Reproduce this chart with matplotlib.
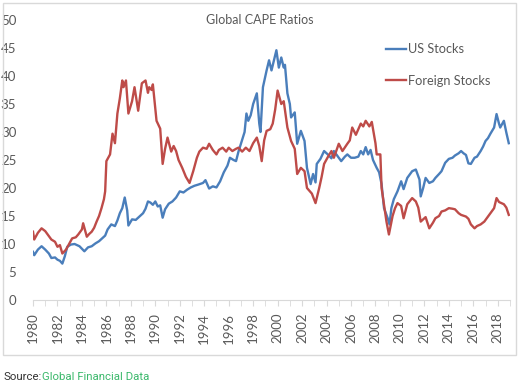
import matplotlib
matplotlib.use("Agg")
import matplotlib.pyplot as plt
from matplotlib.patches import Rectangle
from matplotlib.ticker import MultipleLocator

us_years = [1980.0, 1980.1, 1980.4, 1980.7, 1981.0, 1981.3, 1981.5, 1981.8, 1982.0, 1982.2,
            1982.4, 1982.6, 1982.8, 1983.1, 1983.4, 1983.8, 1984.2, 1984.5, 1984.8, 1985.1,
            1985.4, 1985.6, 1985.9, 1986.1, 1986.4, 1986.7, 1986.9, 1987.1, 1987.3, 1987.5,
            1987.7, 1987.8, 1988.1, 1988.4, 1988.6, 1989.0, 1989.2, 1989.4, 1989.6, 1989.8,
            1990.0, 1990.2, 1990.4, 1990.6, 1990.8, 1991.1, 1991.4, 1991.7, 1992.0, 1992.3,
            1992.6, 1992.9, 1993.2, 1993.5, 1993.9, 1994.1, 1994.4, 1994.7, 1995.0, 1995.3,
            1995.6, 1995.9, 1996.1, 1996.4, 1996.6, 1996.8, 1997.0, 1997.3, 1997.45, 1997.6,
            1997.8, 1998.0, 1998.3, 1998.5, 1998.6, 1998.8, 1999.1, 1999.3, 1999.5, 1999.7,
            1999.9, 2000.1, 2000.3, 2000.5, 2000.6, 2000.8, 2001.0, 2001.1, 2001.4, 2001.6,
            2001.9, 2002.2, 2002.4, 2002.7, 2002.9, 2003.1, 2003.2, 2003.5, 2003.8, 2004.1,
            2004.4, 2004.6, 2004.9, 2005.2, 2005.5, 2005.7, 2006.0, 2006.3, 2006.6, 2006.8,
            2007.0, 2007.2, 2007.4, 2007.6, 2007.8, 2008.1, 2008.3, 2008.5, 2008.7, 2008.85,
            2009.0, 2009.15, 2009.3, 2009.5, 2009.8, 2010.1, 2010.3, 2010.6, 2011.0, 2011.3,
            2011.6, 2011.7, 2011.9, 2012.1, 2012.4, 2012.7, 2012.9, 2013.2, 2013.4, 2013.7,
            2014.0, 2014.3, 2014.5, 2014.8, 2015.0, 2015.2, 2015.4, 2015.6, 2015.8, 2016.1,
            2016.3, 2016.6, 2016.8, 2017.0, 2017.2, 2017.4, 2017.7, 2017.9, 2018.1, 2018.2,
            2018.5, 2018.7, 2018.9]
us_cape = [8.6, 8.0, 9.0, 9.6, 9.0, 8.3, 7.5, 7.6, 7.2, 7.0,
           6.5, 7.8, 9.5, 9.9, 10.0, 9.6, 8.7, 9.4, 9.6, 10.1,
           10.5, 10.9, 11.5, 12.6, 13.5, 13.2, 14.2, 15.5, 16.4, 18.3,
           16.0, 13.3, 14.4, 14.3, 14.7, 15.5, 16.3, 17.6, 17.4, 17.0,
           17.6, 16.7, 16.9, 14.7, 16.2, 17.2, 17.6, 18.3, 19.4, 19.2,
           19.7, 20.1, 20.4, 20.6, 20.9, 21.4, 19.9, 20.3, 20.1, 21.2,
           22.8, 24.0, 25.4, 25.0, 24.8, 26.5, 27.9, 30.0, 33.3, 32.0,
           33.0, 35.0, 36.9, 31.5, 30.0, 38.0, 41.0, 42.8, 41.0, 42.8,
           44.6, 41.5, 43.3, 41.5, 42.0, 36.9, 35.0, 32.6, 33.5, 27.9,
           30.2, 28.4, 23.6, 20.7, 22.5, 21.0, 24.3, 25.2, 26.6, 26.0,
           25.3, 26.6, 25.7, 24.8, 25.6, 26.0, 25.4, 25.4, 25.6, 26.6,
           26.0, 27.3, 26.0, 26.8, 25.0, 23.6, 22.8, 20.7, 16.4, 15.5,
           14.6, 13.5, 16.4, 18.0, 19.4, 21.2, 19.8, 21.8, 23.0, 23.3,
           21.5, 18.5, 20.0, 21.8, 20.9, 21.2, 21.8, 22.5, 23.0, 24.5,
           25.2, 25.4, 25.8, 26.2, 26.6, 26.2, 25.9, 24.4, 24.3, 25.4,
           25.6, 26.6, 27.4, 28.4, 28.9, 29.7, 30.8, 33.2, 31.5, 30.8,
           32.0, 29.9, 28.0]

fx_years = [1980.0, 1980.1, 1980.4, 1980.7, 1981.0, 1981.2, 1981.5, 1981.8, 1982.0, 1982.2,
            1982.4, 1982.7, 1983.0, 1983.2, 1983.5, 1983.7, 1984.0, 1984.1, 1984.4, 1984.6,
            1984.8, 1985.0, 1985.2, 1985.4, 1985.6, 1985.8, 1985.9, 1986.0, 1986.3, 1986.5,
            1986.7, 1986.9, 1987.1, 1987.3, 1987.4, 1987.6, 1987.8, 1988.1, 1988.3, 1988.6,
            1988.9, 1989.2, 1989.4, 1989.5, 1989.7, 1989.8, 1990.1, 1990.4, 1990.6, 1990.8,
            1991.0, 1991.3, 1991.5, 1991.7, 1991.9, 1992.2, 1992.5, 1992.8, 1993.1, 1993.4,
            1993.6, 1993.9, 1994.2, 1994.4, 1994.7, 1995.0, 1995.2, 1995.5, 1995.8, 1996.0,
            1996.3, 1996.6, 1996.8, 1997.1, 1997.4, 1997.7, 1998.0, 1998.3, 1998.5, 1998.7,
            1998.9, 1999.1, 1999.4, 1999.6, 1999.8, 2000.0, 2000.3, 2000.5, 2000.8, 2001.1,
            2001.4, 2001.6, 2001.9, 2002.2, 2002.4, 2002.8, 2003.1, 2003.4, 2003.6, 2003.8,
            2004.1, 2004.4, 2004.6, 2005.0, 2005.3, 2005.7, 2005.9, 2006.1, 2006.4, 2006.8,
            2007.0, 2007.2, 2007.5, 2007.7, 2008.0, 2008.1, 2008.4, 2008.5, 2008.7, 2008.9,
            2009.1, 2009.4, 2009.6, 2009.8, 2010.1, 2010.3, 2010.6, 2011.0, 2011.3, 2011.5,
            2011.7, 2012.1, 2012.4, 2012.7, 2012.9, 2013.2, 2013.4, 2013.7, 2014.0, 2014.3,
            2014.5, 2014.8, 2015.0, 2015.4, 2015.6, 2015.8, 2016.1, 2016.3, 2016.6, 2016.9,
            2017.1, 2017.4, 2017.7, 2017.9, 2018.1, 2018.3, 2018.5, 2018.7, 2018.9]
fx_cape = [12.2, 10.8, 12.0, 12.8, 12.3, 11.7, 10.8, 10.4, 9.5, 9.8,
           8.3, 9.0, 10.2, 11.0, 11.2, 11.7, 12.6, 13.7, 11.3, 11.8,
           12.2, 12.9, 14.0, 15.0, 16.4, 18.0, 19.4, 24.8, 26.0, 29.7,
           28.0, 33.3, 36.0, 39.2, 38.0, 39.2, 33.3, 35.5, 38.0, 33.8,
           38.7, 39.2, 37.0, 38.0, 37.5, 38.5, 32.0, 30.6, 24.3, 27.0,
           29.0, 26.5, 27.5, 26.6, 25.0, 23.6, 22.0, 20.9, 23.0, 25.4,
           26.5, 27.2, 27.0, 27.9, 26.8, 26.0, 26.8, 27.2, 26.5, 27.2,
           26.6, 27.0, 27.2, 26.5, 27.2, 26.6, 28.0, 29.0, 27.5, 24.8,
           28.5, 30.2, 30.5, 31.5, 34.0, 37.4, 35.0, 35.5, 30.8, 28.4,
           27.0, 22.5, 23.6, 23.0, 20.0, 19.0, 17.3, 20.0, 22.0, 24.3,
           25.5, 26.6, 25.4, 27.9, 26.6, 27.9, 28.5, 30.8, 29.5, 31.5,
           31.0, 32.0, 31.0, 31.8, 28.0, 26.0, 26.0, 20.0, 17.0, 14.0,
           11.7, 15.0, 16.4, 17.3, 16.8, 14.6, 17.1, 18.2, 17.6, 16.5,
           14.0, 14.8, 12.8, 13.8, 14.6, 15.0, 15.8, 16.0, 16.4, 16.3,
           16.2, 15.5, 15.2, 14.9, 14.5, 13.5, 12.8, 13.2, 13.5, 14.0,
           14.6, 15.5, 16.4, 18.2, 17.5, 17.3, 17.1, 16.5, 15.2]

year_labels = list(range(1980, 2019, 2))

W, H = 523, 387
fig = plt.figure(figsize=(W / 100, H / 100), dpi=100)
plt.rcParams['font.family'] = ['Lato', 'DejaVu Sans']

# light frame around the chart
fig.patches.append(Rectangle((3 / W, 1 - 355 / H), 513 / W, 352 / H, transform=fig.transFigure,
                             fill=False, edgecolor='#d9d9d9', linewidth=1))

ax = fig.add_axes([33 / W, 1 - 300 / H, 477 / W, 280 / H])
ax.plot(us_years, us_cape, color='#4a7ebb', lw=1.7, label='US Stocks')
ax.plot(fx_years, fx_cape, color='#be4b48', lw=1.7, label='Foreign Stocks')

ax.set_xlim(1980, 2019)
ax.set_ylim(0, 50)
ax.set_yticks(range(0, 51, 5))
ax.set_xticks(year_labels)
ax.set_xticklabels([str(y) for y in year_labels], rotation=90)
ax.xaxis.set_minor_locator(MultipleLocator(1))

for s in ['top', 'right', 'left']:
    ax.spines[s].set_visible(False)
ax.spines['bottom'].set_color('#d9d9d9')
ax.tick_params(axis='y', length=0, labelsize=9.5, labelcolor='#595959', pad=12)
ax.tick_params(axis='x', which='both', length=4, color='#d9d9d9', labelsize=9.5,
               labelcolor='#595959', pad=5)

fig.text(260 / W, 1 - 20 / H, 'Global CAPE Ratios', ha='center', va='center',
         fontsize=9, color='#595959')

ax.legend(loc='upper left', bbox_to_anchor=(386 / W, 1 - 43 / H), bbox_transform=fig.transFigure,
          frameon=False, fontsize=9.2, handlelength=1.6, handletextpad=0.1,
          labelspacing=1.55, borderpad=0, borderaxespad=0, labelcolor='#595959')

fig.text(3 / W, 1 - 377 / H, 'Source:', fontsize=8.2, color='#333333', va='center',
         family='Roboto')
fig.text(42 / W, 1 - 377 / H, 'Global Financial Data', fontsize=8.2, color='#3bb86b',
         va='center', family='Roboto')

fig.savefig('out.png', dpi=100)
